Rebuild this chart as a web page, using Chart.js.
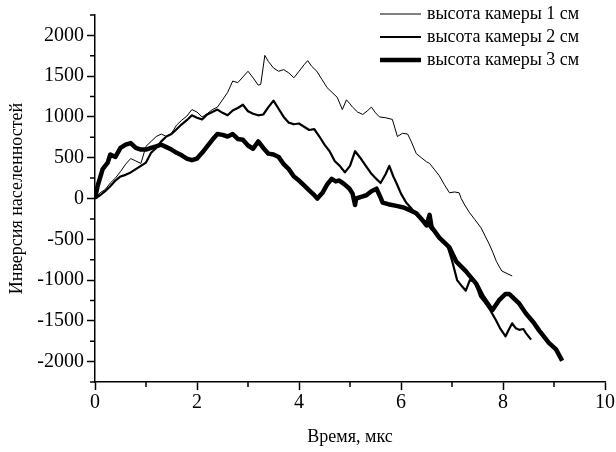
<!DOCTYPE html>
<html>
<head>
<meta charset="utf-8">
<script src="https://cdn.jsdelivr.net/npm/chart.js@4.4.1/dist/chart.umd.min.js"></script>
<style>
  html, body { margin: 0; padding: 0; background: #fff; }
  #wrap { width: 616px; height: 452px; }
</style>
</head>
<body>
<div id="wrap"><canvas id="chart" width="616" height="452"></canvas></div>
<script>
// Values (time in µs, inversion)
const labels = ["высота камеры 1 см", "высота камеры 2 см", "высота камеры 3 см"];

const t1 = [0, 0.1, 0.2, 0.3, 0.4, 0.5, 0.6, 0.7, 0.8, 0.9, 1.0, 1.1, 1.2, 1.3, 1.4, 1.5, 1.6, 1.7, 1.8, 1.9,
  2.0, 2.1, 2.2, 2.3, 2.4, 2.5, 2.6, 2.7, 2.8, 2.9, 3.0, 3.1, 3.2, 3.25, 3.33, 3.4, 3.5, 3.6, 3.7, 3.8,
  3.9, 4.0, 4.1, 4.17, 4.25, 4.35, 4.45, 4.55, 4.65, 4.75, 4.85, 4.93, 5.0, 5.05, 5.15, 5.25, 5.35, 5.42, 5.5, 5.58,
  5.7, 5.83, 5.93, 6.03, 6.13, 6.2, 6.3, 6.4, 6.5, 6.56, 6.65, 6.75, 6.85, 6.95, 7.05, 7.14, 7.18, 7.25, 7.34, 7.45,
  7.57, 7.65, 7.73, 7.8, 7.87, 7.93, 7.98, 8.08, 8.18];
const v1 = [0, 70, 110, 190, 250, 330, 420, 490, 460, 430, 640, 700, 760, 790, 760, 800, 900, 960, 1010, 1090,
  1060, 1000, 1040, 1090, 1120, 1210, 1300, 1440, 1420, 1490, 1560, 1480, 1390, 1400, 1755, 1680, 1600, 1560, 1580, 1540,
  1480, 1560, 1640, 1690, 1620, 1560, 1460, 1360, 1300, 1240, 1090, 1210, 1160, 1120, 1060, 1030, 1080, 1120, 1050, 1000,
  990, 970, 760, 800, 790, 700, 550, 500, 450, 430, 360, 280, 170, 70, 80, 70, 0, -80, -170, -260,
  -360, -460, -560, -660, -770, -840, -890, -920, -950];

const t2 = [0, 0.1, 0.2, 0.3, 0.4, 0.5, 0.6, 0.7, 0.8, 0.9, 1.0, 1.1, 1.2, 1.3, 1.4, 1.5, 1.6, 1.7, 1.8, 1.9,
  2.0, 2.1, 2.2, 2.3, 2.4, 2.5, 2.6, 2.7, 2.8, 2.9, 3.0, 3.1, 3.2, 3.3, 3.4, 3.5, 3.6, 3.7, 3.8, 3.9,
  4.0, 4.1, 4.2, 4.3, 4.4, 4.5, 4.6, 4.7, 4.8, 4.9, 5.0, 5.1, 5.2, 5.3, 5.4, 5.5, 5.6, 5.7, 5.77, 5.85,
  5.91, 6.0, 6.1, 6.2, 6.3, 6.4, 6.5, 6.6, 6.75, 6.9, 7.0, 7.1, 7.2, 7.27, 7.35, 7.45, 7.55, 7.65, 7.75, 7.86,
  7.95, 8.05, 8.12, 8.18, 8.25, 8.32, 8.4, 8.45, 8.55];
const v2 = [0, 40, 90, 150, 220, 270, 290, 320, 360, 400, 440, 560, 620, 700, 760, 790, 850, 910, 960, 1020,
  990, 970, 1030, 1060, 1090, 1050, 1020, 1080, 1110, 1150, 1070, 1040, 1020, 1030, 1120, 1200, 1100, 1000, 930, 910,
  920, 880, 840, 850, 760, 660, 580, 460, 400, 320, 400, 580, 500, 410, 320, 250, 190, 300, 400, 270,
  190, 60, -50, -120, -200, -260, -300, -380, -470, -560, -760, -1000, -1080, -1130, -1000, -1020, -1200, -1280, -1370, -1490,
  -1600, -1690, -1600, -1530, -1590, -1610, -1600, -1650, -1730];

const t3 = [0, 0.05, 0.15, 0.25, 0.3, 0.4, 0.5, 0.6, 0.7, 0.8, 0.9, 1.0, 1.1, 1.2, 1.3, 1.4, 1.5, 1.6, 1.7, 1.8,
  1.9, 2.0, 2.1, 2.2, 2.3, 2.4, 2.5, 2.6, 2.7, 2.8, 2.9, 3.0, 3.1, 3.2, 3.3, 3.4, 3.5, 3.6, 3.7, 3.8,
  3.9, 4.0, 4.1, 4.2, 4.3, 4.36, 4.46, 4.55, 4.64, 4.72, 4.79, 4.9, 4.99, 5.05, 5.1, 5.12, 5.22, 5.32, 5.42, 5.52,
  5.6, 5.64, 5.75, 5.91, 6.05, 6.16, 6.3, 6.4, 6.5, 6.56, 6.6, 6.75, 6.95, 7.08, 7.27, 7.47, 7.6, 7.79, 7.92, 8.05,
  8.12, 8.32, 8.45, 8.6, 8.71, 8.8, 8.9, 9.04, 9.16];
const v3 = [0, 150, 360, 440, 540, 510, 620, 660, 680, 620, 600, 600, 620, 640, 660, 630, 600, 560, 530, 490,
  470, 490, 560, 640, 720, 790, 780, 760, 790, 730, 720, 650, 610, 700, 620, 550, 540, 510, 420, 360,
  270, 220, 160, 100, 40, 0, 70, 170, 240, 210, 220, 170, 120, 60, -80, 0, 20, 40, 90, 120,
  10, -50, -70, -90, -110, -140, -180, -250, -330, -200, -350, -480, -600, -770, -890, -1040, -1200, -1370, -1250, -1170,
  -1170, -1290, -1410, -1520, -1620, -1690, -1770, -1850, -1990];

const xTicks = [0, 2, 4, 6, 8, 10];
const yTicks = [-2000, -1500, -1000, -500, 0, 500, 1000, 1500, 2000];
const xMinor = [1, 3, 5, 7, 9];
const yMinor = [-2250, -1750, -1250, -750, -250, 250, 750, 1250, 1750, 2250];

const widths = [1, 2.2, 4.5];
const serif = "'Liberation Serif', 'DejaVu Serif', serif";

function pts(ts, vs) { return ts.map((t, i) => ({ x: t, y: vs[i] })); }

// minor ticks and the legend in the upper right corner
const extras = {
  id: 'extras',
  afterDraw(chart) {
    const { ctx, chartArea, scales: { x, y } } = chart;
    ctx.save();
    ctx.strokeStyle = '#000';
    ctx.lineWidth = 1.5;
    ctx.beginPath();
    yMinor.forEach(v => {
      const py = y.getPixelForValue(v);
      ctx.moveTo(chartArea.left - 5, py); ctx.lineTo(chartArea.left, py);
    });
    xMinor.forEach(v => {
      const px = x.getPixelForValue(v);
      ctx.moveTo(px, chartArea.bottom); ctx.lineTo(px, chartArea.bottom + 5);
    });
    ctx.stroke();

    ctx.font = "18px " + serif;
    ctx.fillStyle = '#000';
    ctx.textBaseline = 'middle';
    chart.data.datasets.forEach((ds, i) => {
      const yy = 14 + i * 23;
      ctx.lineWidth = ds.borderWidth;
      ctx.beginPath();
      ctx.moveTo(380, yy); ctx.lineTo(421, yy);
      ctx.stroke();
      ctx.fillText(ds.label, 427, yy);
    });
    ctx.restore();
  }
};

new Chart(document.getElementById('chart'), {
  type: 'line',
  data: {
    datasets: [
      { label: labels[0], data: pts(t1, v1), borderWidth: widths[0] },
      { label: labels[1], data: pts(t2, v2), borderWidth: widths[1] },
      { label: labels[2], data: pts(t3, v3), borderWidth: widths[2] }
    ].map(d => Object.assign(d, { borderColor: '#000', pointRadius: 0, tension: 0, fill: false, borderJoinStyle: 'round' }))
  },
  options: {
    responsive: false,
    animation: false,
    layout: { padding: { top: 7, right: 10, left: 0, bottom: 0 } },
    plugins: { legend: { display: false }, tooltip: { enabled: false } },
    scales: {
      x: {
        type: 'linear', min: 0, max: 10,
        afterBuildTicks: s => { s.ticks = xTicks.map(v => ({ value: v })); },
        afterFit: s => { s.height = 70; },
        grid: { drawOnChartArea: false, color: '#000', tickLength: 8, tickWidth: 1.5 },
        border: { color: '#000', width: 1.5 },
        ticks: { color: '#000', font: { family: serif, size: 20 }, padding: 1, maxRotation: 0, callback: v => String(v) },
        title: { display: true, text: 'Время, мкс', color: '#000', font: { family: serif, size: 18 }, padding: { top: 0, bottom: 4 } }
      },
      y: {
        type: 'linear', min: -2250, max: 2250,
        afterBuildTicks: s => { s.ticks = yTicks.map(v => ({ value: v })); },
        afterFit: s => { s.width = 95; },
        grid: { drawOnChartArea: false, color: '#000', tickLength: 8, tickWidth: 1.5 },
        border: { color: '#000', width: 1.5 },
        ticks: { color: '#000', font: { family: serif, size: 20 }, padding: 3, callback: v => String(v) },
        title: { display: true, text: 'Инверсия населенностей', color: '#000', font: { family: serif, size: 18 }, padding: { top: 6, bottom: 0 } }
      }
    }
  },
  plugins: [extras]
});
</script>
</body>
</html>
